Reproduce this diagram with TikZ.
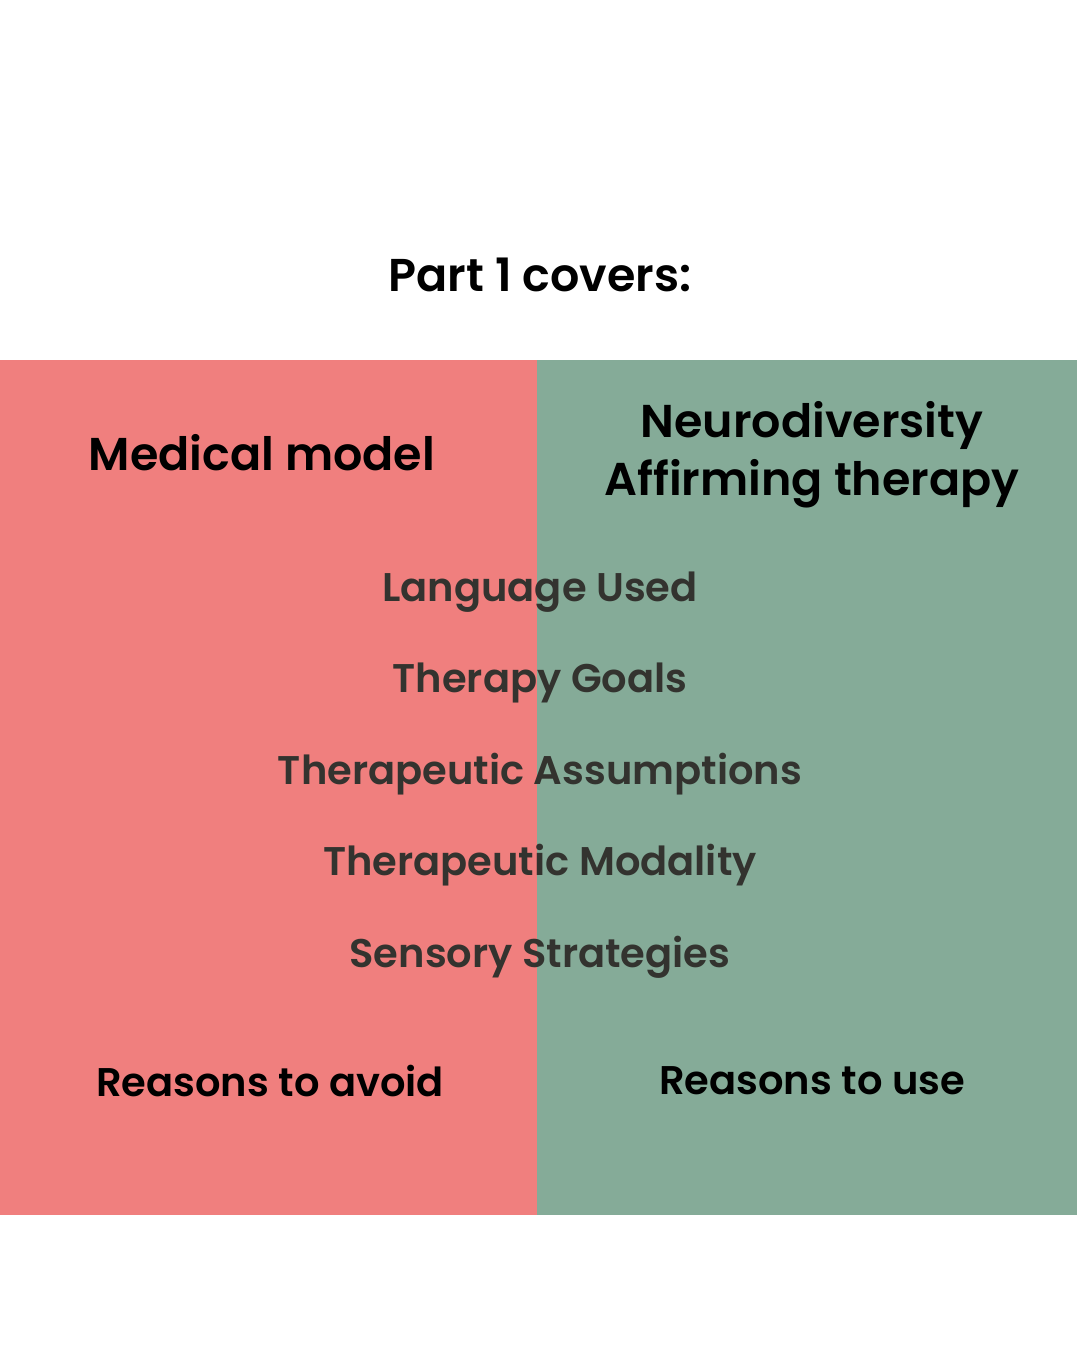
\documentclass[tikz,border=0pt]{standalone}
\usepackage{fontspec}
\setmainfont{Poppins}[BoldFont={* SemiBold}]
\definecolor{redbg}{HTML}{F07F7E}
\definecolor{greenbg}{HTML}{85AB98}
\definecolor{midtxt}{HTML}{33332F}
\begin{document}
\begin{tikzpicture}[x=1pt,y=-1pt,
  head/.style={font=\fontsize{46}{58}\selectfont\bfseries, text=black, align=center, inner sep=0},
  item/.style={font=\fontsize{40}{48}\selectfont\bfseries, text=midtxt, inner sep=0},
  foot/.style={font=\fontsize{40}{48}\selectfont\bfseries, text=black, inner sep=0}]
\useasboundingbox (0,0) rectangle (1080,1350);
\fill[white] (0,0) rectangle (1080,1350);
\fill[redbg] (0,360) rectangle (537,1215);
\fill[greenbg] (537,360) rectangle (1077,1215);
\node[head] (title) at (540,275) {Part 1 covers:};
\node[head] (med) at (262,453) {Medical model};
\node[head] (nd) at (812,455) {Neurodiversity\\Affirming therapy};
\node[item] (i1) at (540,592) {Language Used};
\node[item] (i2) at (540,683) {Therapy Goals};
\node[item] (i3) at (540,774) {Therapeutic Assumptions};
\node[item] (i4) at (540,865) {Therapeutic Modality};
\node[item] (i5) at (540,957) {Sensory Strategies};
\node[foot] (r1) at (270,1081) {Reasons to avoid};
\node[foot] (r2) at (812,1081) {Reasons to use};
\end{tikzpicture}
\end{document}
